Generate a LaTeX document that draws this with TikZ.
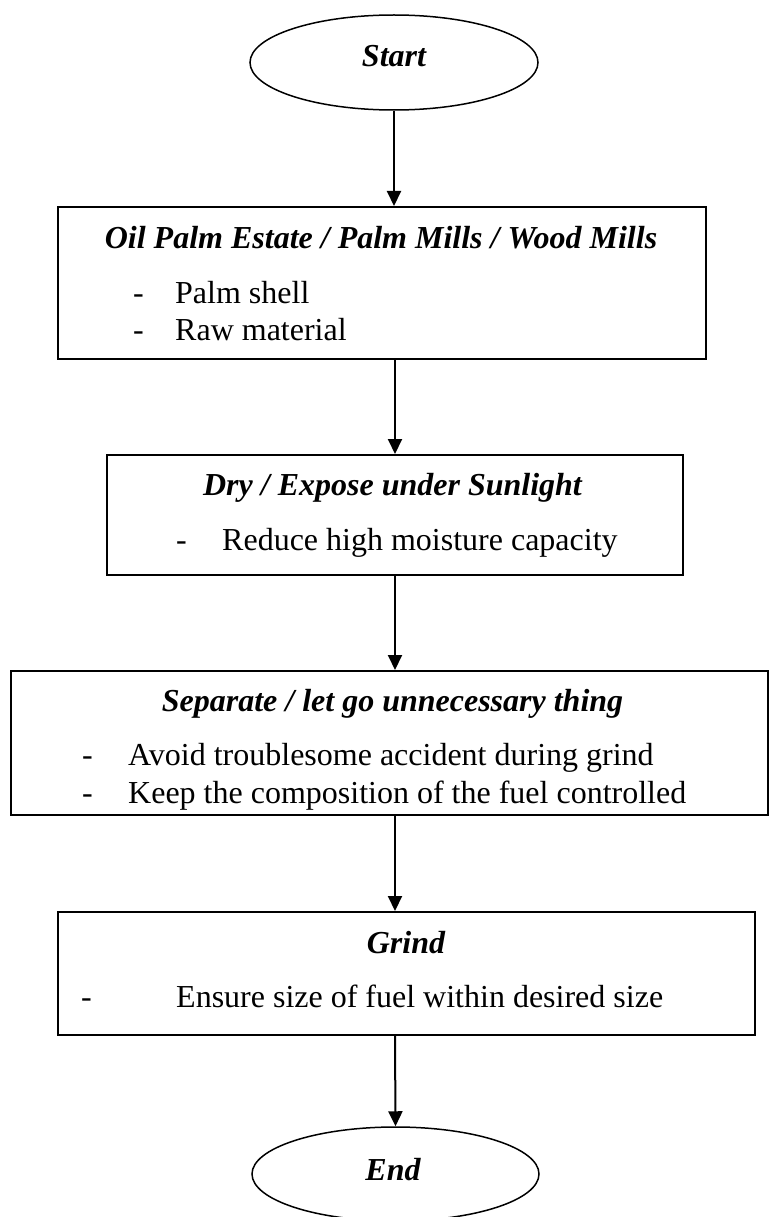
\documentclass[tikz,border=0pt]{standalone}
\usepackage{fontspec}
\setmainfont{Liberation Serif}
\usetikzlibrary{shapes.geometric,arrows.meta}
\begin{document}
\begin{tikzpicture}[x=1pt,y=-1pt,
  boxstyle/.style={draw, line width=2pt, rectangle, inner sep=0pt},
  termstyle/.style={draw, ellipse, line width=1.5pt, inner sep=0pt},
  flow/.style={line width=2pt, -{Triangle[length=15pt,width=14pt]}},
  ttl/.style={font=\fontsize{32}{35}\selectfont\bfseries\itshape, inner sep=0pt, anchor=base},
  txt/.style={font=\fontsize{32}{35}\selectfont, inner sep=0pt, anchor=base west}]
\useasboundingbox (0,0) rectangle (769,1217);
% terminals
\node[termstyle, minimum width=288pt, minimum height=95pt] (start) at (394,62.5) {};
\node[termstyle, minimum width=287pt, minimum height=94pt] (end) at (395.5,1174) {};
% boxes
\node[boxstyle, minimum width=648pt, minimum height=152pt] (b1) at (382,283) {};
\node[boxstyle, minimum width=576pt, minimum height=120pt] (b2) at (395,515) {};
\node[boxstyle, minimum width=757pt, minimum height=144pt] (b3) at (389.5,743) {};
\node[boxstyle, minimum width=697pt, minimum height=123pt] (b4) at (406.5,973.5) {};
% texts
\node[ttl] (ts) at (394,67) {Start};
\node[ttl] (te) at (393,1180) {End};
\node[ttl] (t1) at (381,248) {Oil Palm Estate / Palm Mills / Wood Mills};
\node[txt] (d1a) at (133,303) {-};
\node[txt] (l1a) at (175,303) {Palm shell};
\node[txt] (d1b) at (133,340) {-};
\node[txt] (l1b) at (175,340) {Raw material};
\node[ttl] (t2) at (392.5,495) {Dry / Expose under Sunlight};
\node[txt] (d2a) at (176,550) {-};
\node[txt] (l2a) at (222,550) {Reduce high moisture capacity};
\node[ttl] (t3) at (392.5,711) {Separate / let go unnecessary thing};
\node[txt] (d3a) at (82,765) {-};
\node[txt] (l3a) at (128,765) {Avoid troublesome accident during grind};
\node[txt] (d3b) at (82,803) {-};
\node[txt] (l3b) at (128,803) {Keep the composition of the fuel controlled};
\node[ttl] (t4) at (406,953) {Grind};
\node[txt] (d4a) at (81,1007) {-};
\node[txt] (l4a) at (176,1007) {Ensure size of fuel within desired size};
% connectors
\coordinate (a1) at (395,0);
\draw[flow] (start.south) -- (start.south |- b1.north);
\draw[flow] (a1 |- b1.south) -- (a1 |- b2.north);
\draw[flow] (a1 |- b2.south) -- (a1 |- b3.north);
\draw[flow] (a1 |- b3.south) -- (a1 |- b4.north);
\draw[flow] (a1 |- b4.south) -- (end.north);
\end{tikzpicture}
\end{document}
